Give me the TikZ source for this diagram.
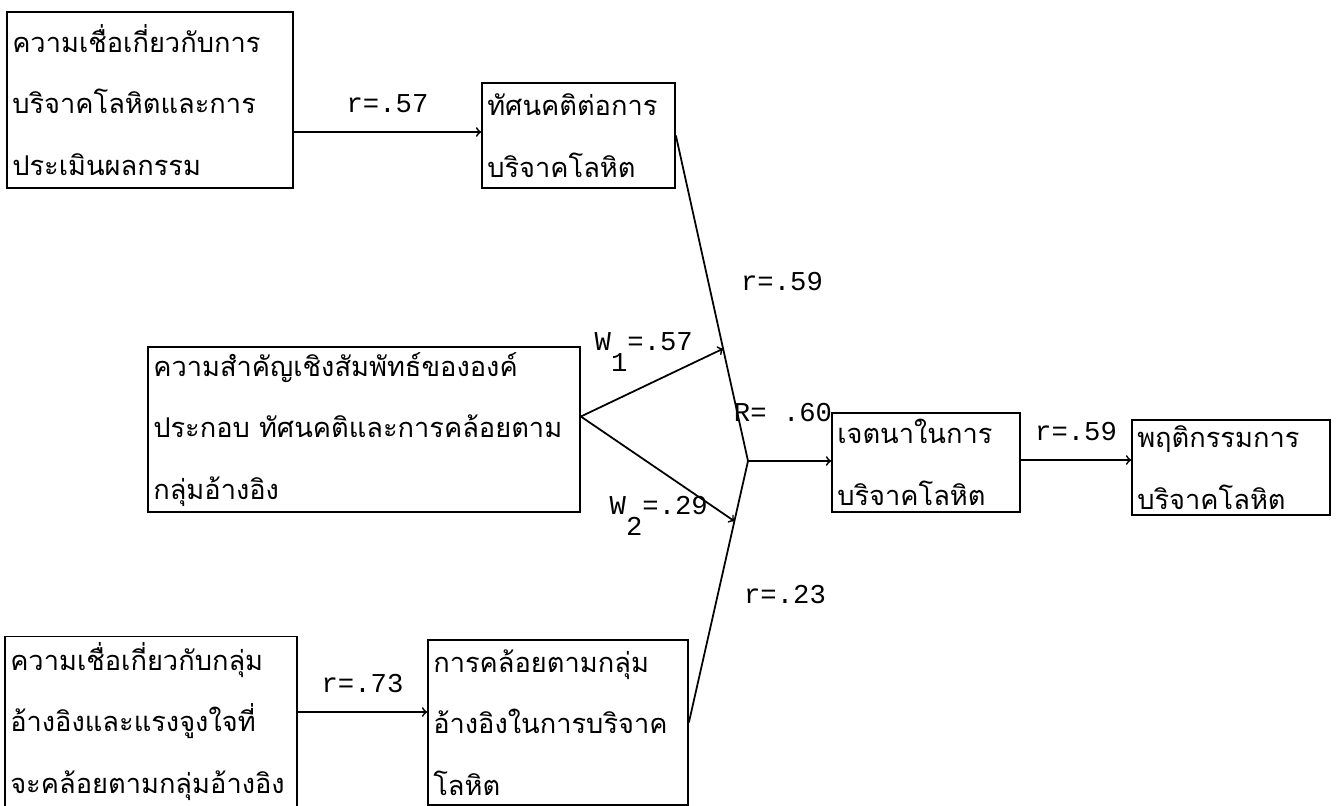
\documentclass[tikz,border=0pt]{standalone}
\usepackage{fontspec}
\newfontfamily\thaifont[Script=Thai]{Loma}
\setmonofont{Liberation Mono}
\usetikzlibrary{arrows, calc}

\begin{document}
\begin{tikzpicture}[x=0.02cm,y=-0.02cm,auto,line width=1pt,
 box node/.style={draw,rectangle,align=left,inner xsep=3pt,font=\thaifont\fontsize{15.5}{35}\selectfont},
 lbl node/.style={font=\ttfamily\fontsize{15.5}{15.5}\selectfont}]

  \useasboundingbox (0,0) rectangle (1338,805);

  \node[box node,minimum width=5.72cm,minimum height=3.52cm,text width=5.51cm] (1) at (150,100)
    {ความเชื่อเกี่ยวกับการ\\บริจาคโลหิตและการ\\ประเมินผลกรรม};
  \node[box node,minimum width=3.86cm,minimum height=2.1cm,text width=3.65cm] (2) at (578.5,135.5)
    {ทัศนคติต่อการ\\บริจาคโลหิต};
  \node[box node,minimum width=8.64cm,minimum height=3.3cm,text width=8.43cm] (3) at (364,429.5)
    {ความสำคัญเชิงสัมพัทธ์ขององค์\\ประกอบ ทัศนคติและการคล้อยตาม\\กลุ่มอ้างอิง};
  \node[box node,minimum width=3.76cm,minimum height=1.98cm,text width=3.55cm] (4) at (926,462.5)
    {เจตนาในการ\\บริจาคโลหิต};
  \node[box node,minimum width=3.96cm,minimum height=1.78cm,text width=3.75cm] (5) at (1231,467.5)
    {พฤติกรรมการ\\บริจาคโลหิต};
  \node[box node,minimum width=5.84cm,minimum height=3.26cm,text width=5.63cm] (6) at (151,721.5)
    {ความเชื่อเกี่ยวกับกลุ่ม\\อ้างอิงและแรงจูงใจที่\\จะคล้อยตามกลุ่มอ้างอิง};
  \node[box node,minimum width=5.2cm,minimum height=3.3cm,text width=4.99cm] (7) at (558,722.5)
    {การคล้อยตามกลุ่ม\\อ้างอิงในการบริจาค\\โลหิต};

  \coordinate (J) at (748,461);

  \foreach \s/\t/\y/\i in {1/2/132/.57, 6/7/712/.73, 4/5/460/.59} {
    \draw[->] (\s.east |- 0,\y) -- (\t.west |- 0,\y) node[midway,above,lbl node,yshift=0.25cm] {r=\i};}

  \draw (2.east) -- (J);
  \draw (7.east) -- (J);
  \draw[->] (J) -- (J -| 4.west);
  \draw[->] ([yshift=0.26cm]3.east) -- ($(2.east)!0.655!(J)$);
  \draw[->] ([yshift=0.26cm]3.east) -- ($(7.east)!0.77!(J)$);

  \node[lbl node] (r59) at (782,282) {r=.59};
  \node[lbl node,anchor=base west] (w1) at (588,350) {W\raisebox{-1.5ex}{1}=.57};
  \node[lbl node,anchor=base west] (w2) at (603,514) {W\raisebox{-1.5ex}{2}=.29};
  \node[lbl node] (R) at (783,413) {R= .60};
  \node[lbl node] (r23) at (785,595) {r=.23};
\end{tikzpicture}
\end{document}
